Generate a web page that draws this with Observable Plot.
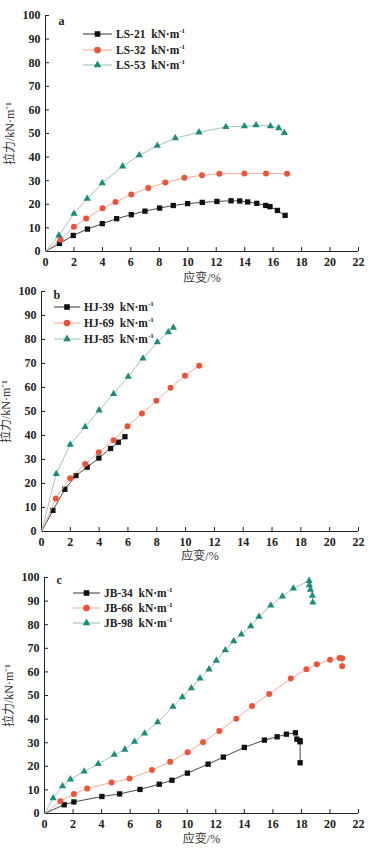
<!DOCTYPE html>
<html><head><meta charset="utf-8">
<script src="https://cdn.jsdelivr.net/npm/d3@7"></script>
<script src="https://cdn.jsdelivr.net/npm/@observablehq/plot@0.6"></script>
<style>
body{margin:0;background:#fff;width:378px;overflow:hidden;}
.panel{position:relative;width:378px;}
.panel svg{display:block;}
.lrow{position:absolute;display:flex;align-items:center;height:14px;font:bold 11.5px "Liberation Serif",serif;color:#222;white-space:nowrap;}
.lrow svg{margin-right:4px;}
</style></head><body><div id="root"></div>
<script>
// ---- tick labels ----
const xTicks = [0,2,4,6,8,10,12,14,16,18,20,22];
const yTicks = [0,10,20,30,40,50,60,70,80,90,100];
const xLabel = "应变/%";
const yLabel = "拉力/kN·m⁻¹";

// ---- panel a ----
const ls21X = [0,0.98,1.95,2.95,3.99,5.0,6.03,6.99,8.02,8.98,9.99,11.02,12.05,13.04,13.65,14.21,14.85,15.48,15.78,16.3,16.84];
const ls21Y = [0,3.4,6.8,9.5,11.8,13.9,15.6,17.1,18.4,19.5,20.3,20.8,21.2,21.5,21.4,21.0,20.4,19.5,19.0,17.4,15.3];
const ls32X = [0,1.06,2.0,2.86,4.01,4.92,6.03,7.22,8.42,9.76,11.0,12.22,13.98,15.5,16.98];
const ls32Y = [0,5.0,10.5,14.0,18.3,21.0,24.2,26.9,29.2,31.2,32.3,32.9,33.1,33.1,32.9];
const ls53X = [0,0.94,2.0,2.93,3.99,5.42,6.59,7.86,9.12,10.79,12.68,13.98,14.8,15.81,16.39,16.79];
const ls53Y = [0,6.8,16.0,22.4,29.0,36.1,40.8,44.8,48.0,50.5,52.8,53.1,53.5,53.1,52.3,50.3];

// ---- panel b ----
const hj39X = [0,0.79,1.62,2.39,3.17,3.98,4.79,5.33,5.79];
const hj39Y = [0,8.8,17.6,23.3,26.8,30.6,34.6,37.2,39.5];
const hj69X = [0,0.99,1.99,3.03,3.98,5.0,5.97,6.97,7.97,8.96,9.96,10.95];
const hj69Y = [0,13.8,22.2,28.1,33.0,38.0,43.9,49.2,54.5,59.9,64.9,69.1];
const hj85X = [0,1.02,1.99,3.03,4.0,5.0,6.02,7.04,8.04,8.8,9.15];
const hj85Y = [0,24.0,36.2,43.6,50.5,57.3,64.5,72.1,78.9,83.1,84.9];

// ---- panel c ----
const jb34X = [0,1.38,2.06,4.02,5.26,6.69,8.04,8.93,10.01,11.46,12.53,14.0,15.41,16.3,16.95,17.58,17.68,17.89,17.91,17.91];
const jb34Y = [0,3.7,4.9,7.2,8.3,10.2,12.4,14.1,17.1,20.9,23.9,28.0,31.1,32.5,33.6,34.2,31.5,30.9,30.4,21.5];
const jb66X = [0,1.12,2.06,2.99,4.7,5.96,7.53,8.81,10.03,11.11,12.25,13.44,14.54,15.74,17.26,18.35,19.08,20.01,20.67,20.86,20.86];
const jb66Y = [0,5.2,8.3,10.6,13.1,14.8,18.4,21.9,26.0,30.2,35.0,40.2,45.5,50.6,57.2,61.1,63.2,65.1,65.9,65.8,62.4];
const jb98X = [0,0.61,1.26,1.82,2.78,3.76,4.89,5.63,6.31,7.01,7.93,9.0,9.66,10.29,10.9,11.53,12.04,12.67,13.26,13.79,14.45,15.03,15.85,16.67,17.44,18.54,18.56,18.63,18.77,18.8];
const jb98Y = [0,6.5,11.6,14.5,17.8,21.0,24.9,27.1,30.4,33.9,38.7,45.3,49.3,53.1,57.2,61.1,64.8,69.2,73.0,75.9,79.4,83.4,88.2,92.0,95.4,98.6,96.8,94.9,92.3,89.4];

const styles = [
  {symbol:"square", r:3.0, fill:"#111", line:"#333"},
  {symbol:"circle", r:3.0, fill:"#e8553b", line:"#f2a18c"},
  {symbol:"triangle", r:2.7, fill:"#1f8a79", line:"#94bdb5"}
];

const panels = [
  {label:"a", height:284, mt:15, mb:33, ml:45, xdy:27, names:["LS-21","LS-32","LS-53"], xs:[ls21X,ls32X,ls53X], ys:[ls21Y,ls32Y,ls53Y],
   ldx:13, ldy:1, leg:{top:27, line:83, text:116, gap:15.5}},
  {label:"b", height:280, mt:7, mb:33, ml:41, xdy:25, names:["HJ-39","HJ-69","HJ-85"], xs:[hj39X,hj69X,hj85X], ys:[hj39Y,hj69Y,hj85Y],
   ldx:12, ldy:-1, leg:{top:16, line:54, text:84, gap:16.2}},
  {label:"c", height:284, mt:13, mb:35, ml:44, xdy:26, names:["JB-34","JB-66","JB-98"], xs:[jb34X,jb66X,jb98X], ys:[jb34Y,jb66Y,jb98Y],
   ldx:12, ldy:-2, leg:{top:22, line:73, text:104, gap:15}}
];

const root = document.getElementById("root");

function symbolSvg(st, w) {
  const ns = "http://www.w3.org/2000/svg";
  const s = document.createElementNS(ns, "svg");
  s.setAttribute("width", w); s.setAttribute("height", 10);
  const l = document.createElementNS(ns, "line");
  l.setAttribute("x1", 0); l.setAttribute("x2", w); l.setAttribute("y1", 5); l.setAttribute("y2", 5);
  l.setAttribute("stroke", st.line); l.setAttribute("stroke-width", 1);
  s.appendChild(l);
  const p = document.createElementNS(ns, "path");
  const sym = {square:d3.symbolSquare, circle:d3.symbolCircle, triangle:d3.symbolTriangle}[st.symbol];
  p.setAttribute("d", d3.symbol(sym, Math.PI * st.r * st.r * (st.symbol==="circle"?1.25:1.1))());
  p.setAttribute("transform", `translate(${w/2},5)`);
  p.setAttribute("fill", st.fill);
  s.appendChild(p);
  return s;
}

for (const P of panels) {
  const marks = [];
  P.names.forEach((name, k) => {
    const rows = P.xs[k].map((x, i) => ({x, y: P.ys[k][i], s: name}));
    const st = styles[k];
    marks.push(Plot.line(rows, {x:"x", y:"y", stroke: st.line, strokeWidth: 0.9}));
    marks.push(Plot.dot(rows.filter(d => d.x > 0), {x:"x", y:"y", symbol: st.symbol, r: st.r, fill: st.fill, stroke: "none"}));
  });
  const chart = Plot.plot({
    width: 378, height: P.height,
    marginTop: P.mt, marginBottom: P.mb, marginLeft: P.ml, marginRight: 20,
    x: {domain: [0, 22]},
    y: {domain: [0, 100]},
    style: {fontFamily: "Liberation Serif, serif", fontSize: "12px", color: "#222", background: "transparent"},
    marks: [
      Plot.ruleY([0], {stroke: "#222", strokeWidth: 1}),
      Plot.ruleX([0], {stroke: "#222", strokeWidth: 1}),
      Plot.axisX({ticks: xTicks, tickSize: -4, tickPadding: 10, fontWeight: "bold", label: null, stroke: "#222"}),
      Plot.axisY({ticks: yTicks, tickSize: -4, tickPadding: 9, fontWeight: "bold", label: null, stroke: "#222"}),
      Plot.text([xLabel], {frameAnchor: "bottom", lineAnchor: "middle", dy: P.xdy, fontFamily: "Liberation Serif, Noto Sans CJK SC", fontSize: 12, fill: "#333"}),
      Plot.text([yLabel], {frameAnchor: "left", lineAnchor: "middle", textAnchor: "middle", rotate: -90, dx: -35, fontFamily: "Liberation Serif, Noto Sans CJK SC", fontSize: 12, fill: "#333"}),
      Plot.text([P.label], {frameAnchor: "top-left", dx: P.ldx, dy: P.ldy, fontWeight: "bold", fontSize: 12, fill: "#222"}),
      ...marks
    ]
  });
  const div = document.createElement("div");
  div.className = "panel";
  div.style.height = P.height + "px";
  div.appendChild(chart);
  P.names.forEach((name, k) => {
    const row = document.createElement("div");
    row.className = "lrow";
    row.style.left = P.leg.line + "px";
    row.style.top = (P.leg.top + k * P.leg.gap) + "px";
    const w = P.leg.text - P.leg.line - 4;
    row.appendChild(symbolSvg(styles[k], w));
    const t = document.createElement("span");
    t.innerHTML = name + "&nbsp; kN·m<sup style='font-size:7px;vertical-align:5px;line-height:0'>-1</sup>";
    row.appendChild(t);
    div.appendChild(row);
  });
  root.appendChild(div);
}
</script>
</body></html>
